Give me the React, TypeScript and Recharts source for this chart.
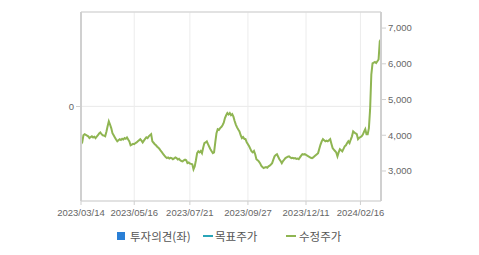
import React from "react";
import { LineChart, Line, XAxis, YAxis, CartesianGrid, ReferenceLine } from "recharts";

const tickIndex = [0, 44, 90, 138, 186, 231];
const tickLabels = ["2023/03/14", "2023/05/16", "2023/07/21", "2023/09/27", "2023/12/11", "2024/02/16"];
const priceTicks = [3000, 4000, 5000, 6000, 7000];
const opinionTicks = [0];

const prices = [
  3750, 3800, 4000, 4030, 4010, 3990, 3970, 3920, 3950, 3970,
  3940, 3960, 3920, 3960, 4000, 4050, 4080, 4030, 4000, 3990,
  3970, 4100, 4250, 4390, 4300, 4200, 4060, 4000, 3940, 3880,
  3830, 3860, 3890, 3870, 3900, 3880, 3920, 3900, 3940, 3880,
  3830, 3720, 3740, 3760, 3750, 3780, 3800, 3830, 3860, 3890,
  3850, 3800, 3850, 3900, 3940, 3920, 3970, 4000, 4030, 3830,
  3790, 3750, 3720, 3680, 3650, 3610, 3560, 3520, 3470, 3430,
  3390, 3360, 3380, 3350, 3370, 3360, 3330, 3350, 3380, 3360,
  3320, 3340, 3300, 3280, 3270, 3300, 3320, 3300, 3220, 3240,
  3210, 3200, 3190, 3050, 3130, 3300, 3500, 3550, 3520, 3560,
  3500, 3650, 3780, 3800, 3830, 3750, 3680, 3610, 3550, 3500,
  3520, 3800, 4060, 4170, 4150, 4200, 4230, 4280, 4350, 4480,
  4560, 4620, 4580, 4620, 4560, 4590, 4520, 4400, 4300, 4220,
  4160, 4110, 4000, 3920, 3950, 3900, 3890, 3800, 3750, 3690,
  3620, 3550, 3520, 3560, 3470, 3330, 3300, 3270, 3220, 3150,
  3110, 3080, 3100, 3110, 3090, 3130, 3150, 3180, 3220, 3320,
  3410, 3450, 3470, 3400, 3330, 3280, 3220, 3280, 3320, 3360,
  3380, 3400, 3410, 3380, 3360, 3370, 3350, 3360, 3340, 3350,
  3330, 3380, 3430, 3470, 3460, 3470, 3450, 3430, 3410, 3390,
  3370, 3360, 3380, 3410, 3440, 3470, 3500, 3620, 3740, 3830,
  3890, 3860, 3830, 3850, 3830, 3860, 3890, 3760, 3640, 3600,
  3560, 3520, 3410, 3520, 3610, 3580, 3550, 3620, 3690, 3720,
  3780, 3830, 3780, 3880, 3970, 4110, 4080, 4050, 4030, 3890,
  3930, 3950, 3970, 4020, 4100, 4170, 4030, 4030, 4200, 4730,
  5700, 6010, 6030, 6050, 6020, 6070, 6120, 6630, 6690,
];

const data = prices.map((v, i) => ({ i, v }));

const FONT = '"Liberation Sans", Arial, sans-serif';
const tickStyle = { fill: "#666", fontSize: 9.5, fontFamily: FONT };

export default function App() {
  return (
    <div style={{ position: "absolute", left: 0, top: 0, width: 479, height: 255, background: "#fff", fontFamily: FONT }}>
      <LineChart width={479} height={255} data={data} margin={{ top: 12, right: 0, left: 0, bottom: 24 }}>
        <CartesianGrid yAxisId="left" stroke="#ececec" strokeWidth={1} />
        <XAxis
          dataKey="i"
          type="number"
          domain={[0, 248]}
          ticks={tickIndex}
          tickFormatter={(v: number) => tickLabels[tickIndex.indexOf(v)] ?? ""}
          axisLine={{ stroke: "#cfcfcf", strokeWidth: 1 }}
          tickLine={{ stroke: "#cfcfcf" }}
          tickSize={4}
          height={30}
          tick={{ ...tickStyle, dy: 2 }}
          interval={0}
        />
        <YAxis
          yAxisId="left"
          orientation="left"
          type="number"
          width={81}
          domain={[-1, 1]}
          allowDataOverflow={true}
          ticks={opinionTicks}
          axisLine={{ stroke: "#d0d0d0", strokeWidth: 2 }}
          tickLine={{ stroke: "#cfcfcf" }}
          tickSize={5}
          tick={tickStyle}
        />
        <YAxis
          yAxisId="right"
          orientation="right"
          type="number"
          width={98}
          domain={[2160, 7450]}
          allowDataOverflow={true}
          ticks={priceTicks}
          tickFormatter={(v: number) => v.toLocaleString("en-US")}
          axisLine={{ stroke: "#d0d0d0", strokeWidth: 2 }}
          tickLine={{ stroke: "#cfcfcf" }}
          tickSize={5}
          tick={tickStyle}
        />
        <ReferenceLine yAxisId="right" y={7450} stroke="#cfcfcf" strokeWidth={1} ifOverflow="extendDomain" />
        <ReferenceLine yAxisId="right" y={4810} stroke="#ececec" strokeWidth={1} />
        <Line
          yAxisId="right"
          dataKey="v"
          type="linear"
          stroke="#8fb552"
          strokeWidth={2}
          dot={false}
          isAnimationActive={false}
        />
      </LineChart>
      <div style={{ position: "absolute", top: 228, left: 0, width: 479, height: 16, fontSize: 11.5, color: "#555", fontFamily: '"Noto Sans CJK KR", sans-serif', lineHeight: "16px" }}>
        <span style={{ position: "absolute", left: 117, top: 4, width: 8, height: 8, background: "#2a7fd6" }} />
        <span style={{ position: "absolute", left: 130, top: 0, whiteSpace: "nowrap" }}>투자의견(좌)</span>
        <span style={{ position: "absolute", left: 203, top: 7, width: 10, height: 2, background: "#2aa5b8" }} />
        <span style={{ position: "absolute", left: 215, top: 0, whiteSpace: "nowrap" }}>목표주가</span>
        <span style={{ position: "absolute", left: 286, top: 7, width: 10, height: 2, background: "#8fb552" }} />
        <span style={{ position: "absolute", left: 299, top: 0, whiteSpace: "nowrap" }}>수정주가</span>
      </div>
    </div>
  );
}
